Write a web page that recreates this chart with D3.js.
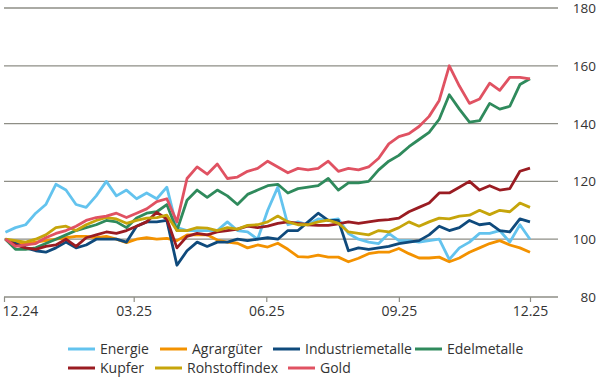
<!DOCTYPE html>
<html><head><meta charset="utf-8">
<script src="https://cdn.jsdelivr.net/npm/d3@7/dist/d3.min.js"></script>
<style>body{margin:0;background:#fff}svg{display:block}text{font-family:"Open Sans",sans-serif;fill:#333}</style>
</head><body><svg id="c" width="600" height="380"></svg>
<script>
const seriesNames = ["Energie","Agrargüter","Industriemetalle","Edelmetalle","Kupfer","Rohstoffindex","Gold"];
const seriesColors = ["#63c3ee","#f39200","#0f4a7c","#2f8a5c","#9a1c22","#c6a50b","#e05262"];
const startDate = "2024-12-02";
const energie = [102.4,104,105,109,112,119,117,112,111,115,120,115,117,114,116,114,118,104,103,103,103,103,106,103,102.5,100,110,118,105,106,105,107,106.5,107,102,100,99,98.5,102,99.5,99.5,99,99.5,100,93,97,99,102,102,103,99,105,100];
const agrar = [100,99,98.5,99,99.5,100,100.5,101,101,100.5,101,100,98.8,100,100.5,100,100.3,99.5,101.5,101.5,101.5,99.7,99,98.6,97,98,97.3,98.6,96.5,94,93.8,94.5,93.8,93.8,92.2,93.4,95,95.5,95.5,96.8,95,93.5,93.5,93.8,92.2,93.5,95.5,97,98.5,99.5,98,97,95.5];
const industrie = [100,98.5,97,96,95.5,97,99,97,98,100,100,100,99,104.5,106,106,106.5,91,96,99,97.5,99,99,100,99.5,100,100.5,100,103,103,106,109,106.5,106.5,96,97,96.5,97,97.5,98.5,99,99.5,101.5,104.5,103,104,106.5,105,105.5,103,102.5,107,106];
const edel = [100,96.5,96.5,97,98.5,100,101.5,103,104,105,106.5,106,104,107.3,109,109.5,112,103,113.5,117,114.5,117,115,112,115.5,117,118.5,119,116,117.5,118,118.5,121,117,119.5,119.5,120,124,127,129,132,134.5,137,141.5,150,145,140.5,141,147,145,146,153.5,155.5];
const kupfer = [100,98,97,96.5,97.5,98,100,97.5,100.5,101.5,102.5,102,103,104.5,106,109.3,107,97,101,102,101.5,102.5,103,103.5,104.5,104,104.5,105.5,106,105.5,105,104.8,104.8,105.3,106,105.5,106,106.5,106.8,107.3,109.5,111,112.5,116,116,118,120,117,118.5,117,117.5,123.5,124.6];
const rohstoff = [100,99.5,99,100,101.5,104,104.5,103,105,106.5,107.5,107,105.5,106.5,107.3,107.5,108.3,103,103,104,103.8,103,104,103.5,104.8,105,106,108,106,105,105,106,106.6,105.5,102.5,102,101.5,103,102.5,104,106,104.5,106,107.3,107,108,108.3,110,108.5,110,109.5,112.5,111];
const gold = [100,97.5,98,98.5,100.5,102,103,104.5,106.5,107.5,108,109,107.5,109,110.5,113,114,106,121,125,122.5,126,121,121.5,123.5,124.5,127,125,123,124.5,124,124.5,127,123.5,124.5,124,125,128,133,135.5,136.5,139,142.5,148,160,153,147,148.5,154,151.5,156,156,155.5];
const yTicks = [80,100,120,140,160,180];
const xTickDates = ["2024-12-01","2025-03-01","2025-06-01","2025-09-01","2025-12-01"];
const xTickLabels = ["12.24","03.25","06.25","09.25","12.25"];

const allSeries = [energie, agrar, industrie, edel, kupfer, rohstoff, gold];
const parse = d3.timeParse("%Y-%m-%d");
const s0 = parse(startDate);
const dates = energie.map((_, i) => d3.timeWeek.offset(s0, i));

const svg = d3.select("#c");
const x = d3.scaleTime().domain([parse("2024-12-01"), parse("2025-12-01")]).range([4, 530]);
const y = d3.scaleLinear().domain([80, 180]).range([297, 8]);

// gridlines
svg.append("g").selectAll("line").data(yTicks).join("line")
  .attr("x1", 4).attr("x2", 558)
  .attr("y1", d => y(d)).attr("y2", d => y(d))
  .attr("stroke", "#8e8e86").attr("stroke-width", 1.3);

// y labels
svg.append("g").selectAll("text").data(yTicks).join("text")
  .attr("x", 596).attr("y", d => y(d) + 5)
  .attr("text-anchor", "end").attr("font-size", 13.5).text(d => d);

// x axis
const xa = d3.axisBottom(x).tickValues(xTickDates.map(parse))
  .tickFormat((d, i) => xTickLabels[i]).tickSize(5).tickSizeOuter(0);
const gx = svg.append("g").attr("transform", `translate(0,${y(80)})`).call(xa);
gx.select(".domain").remove();
gx.selectAll(".tick line").attr("stroke", "#8e8e86").attr("stroke-width", 1.2);
gx.selectAll(".tick text").attr("font-size", 14).attr("fill", "#333")
  .attr("font-family", "Open Sans, sans-serif").attr("y", 9);
gx.selectAll(".tick text").filter((d, i) => i === 0).attr("text-anchor", "start").attr("dx", -2);

// lines
const line = d3.line().x((d, i) => x(dates[i])).y(d => y(d)).curve(d3.curveLinear);
svg.append("g").selectAll("path").data(allSeries).join("path")
  .attr("d", line).attr("fill", "none")
  .attr("stroke", (d, i) => seriesColors[i]).attr("stroke-width", 2.8)
  .attr("stroke-linejoin", "round");

// legend
const legendPos = [[68,349],[160,349],[273,349],[415,349],[68,368],[155,368],[288,368]];
const lg = svg.append("g").selectAll("g").data(seriesNames).join("g")
  .attr("transform", (d, i) => `translate(${legendPos[i][0]},${legendPos[i][1]})`);
lg.append("line").attr("x1", 0).attr("x2", 27).attr("y1", 0).attr("y2", 0)
  .attr("stroke", (d, i) => seriesColors[i]).attr("stroke-width", 3);
lg.append("text").attr("x", 32).attr("dy", "0.35em").attr("font-size", 14).text(d => d);
</script></body></html>
